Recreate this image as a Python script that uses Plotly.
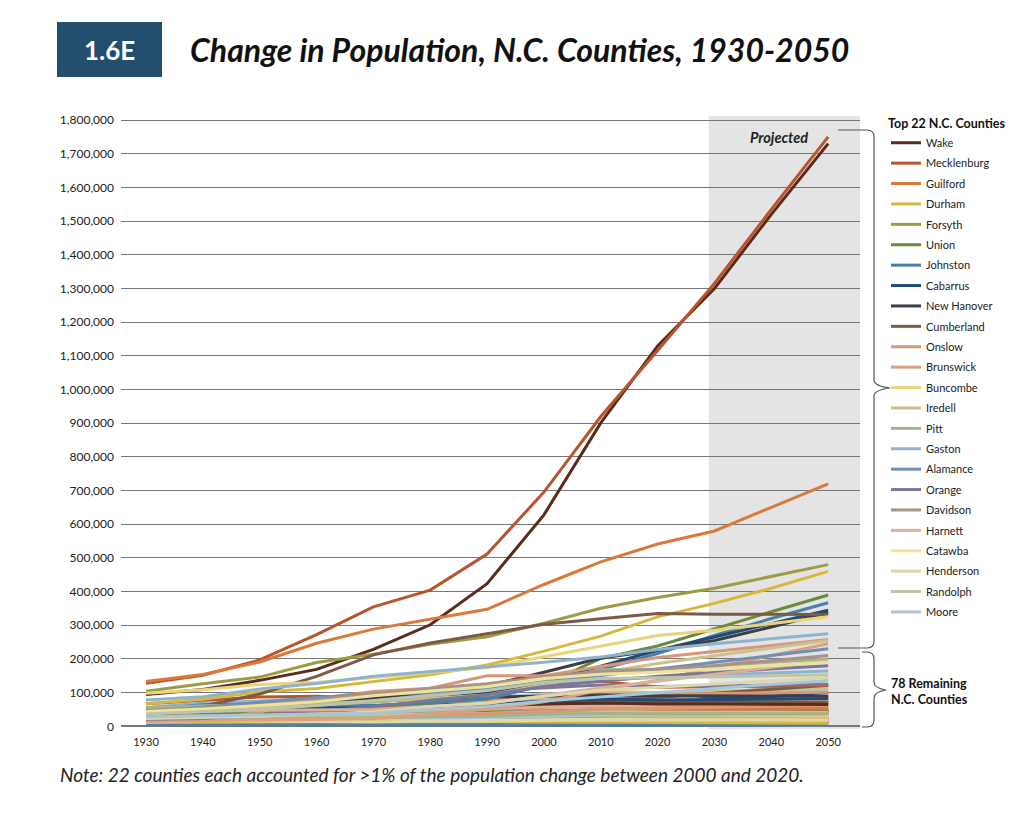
import plotly.graph_objects as go

# decades, census 1930-2020 then projections to 2050
years = [1930, 1940, 1950, 1960, 1970, 1980, 1990, 2000, 2010, 2020, 2030, 2040, 2050]

# top counties (people)
wake = [94757, 109544, 136450, 169082, 228453, 301327, 423380, 627846, 900993, 1129410, 1300000, 1520000, 1730000]
mecklenburg = [127971, 151826, 197052, 272111, 354656, 404270, 511433, 695454, 919628, 1115482, 1315000, 1535000, 1750000]
guilford = [133010, 153916, 191057, 246520, 288590, 317154, 347420, 421048, 488406, 541299, 580000, 650000, 720000]
durham = [67196, 80244, 101639, 111995, 132681, 152785, 181835, 223314, 267587, 324833, 365000, 410000, 460000]
forsyth = [103934, 126475, 146135, 189428, 214348, 243683, 265878, 306067, 350670, 382590, 410000, 445000, 480000]
union = [40979, 39097, 42034, 44670, 54714, 70380, 84211, 123677, 201292, 238267, 290000, 340000, 390000]
johnston = [49162, 63798, 65906, 62936, 61737, 70599, 81306, 121965, 168878, 215999, 270000, 320000, 367000]
cabarrus = [44331, 59393, 63783, 68137, 74629, 85895, 98935, 131063, 178011, 225804, 265000, 305000, 345000]
new_hanover = [43010, 47935, 63272, 71742, 82996, 103471, 120284, 160307, 202667, 225702, 255000, 295000, 338000]
cumberland = [45219, 59320, 96006, 148418, 212042, 247160, 274566, 302963, 319431, 334728, 333000, 332000, 332000]
onslow = [15289, 17939, 42047, 82706, 103126, 112784, 149838, 150355, 177772, 204576, 222000, 240000, 258000]
brunswick = [15818, 17125, 19238, 20278, 24223, 35777, 50985, 73143, 107431, 136693, 175000, 210000, 245000]
buncombe = [97937, 108755, 124403, 130074, 145056, 160934, 174821, 206330, 238318, 269452, 285000, 305000, 325000]
iredell = [46693, 50424, 56303, 62526, 72197, 82538, 92931, 122660, 159437, 186693, 210000, 232000, 255000]
pitt = [54466, 61244, 63789, 69942, 73900, 90146, 107924, 133798, 168148, 170243, 180000, 190000, 200000]
gaston = [78093, 87531, 110836, 127074, 148415, 162568, 175093, 190365, 206086, 227943, 245000, 260000, 275000]
alamance = [42140, 57427, 71220, 85674, 96362, 99319, 108213, 130800, 151131, 171415, 190000, 210000, 230000]
orange = [21171, 23072, 34435, 42970, 57707, 77055, 93851, 118227, 133801, 148696, 160000, 170000, 180000]
davidson = [47865, 53402, 62244, 79493, 95627, 113162, 126677, 147246, 162878, 168930, 180000, 195000, 210000]
harnett = [37911, 44239, 47605, 48236, 49667, 59570, 67822, 91025, 114678, 133568, 155000, 175000, 195000]
catawba = [43991, 51479, 61794, 73191, 90873, 105208, 118412, 141685, 154358, 160610, 170000, 180000, 190000]
henderson = [23404, 26049, 30921, 36163, 42804, 58580, 69285, 89173, 106740, 116281, 125000, 135000, 145000]
randolph = [36259, 44554, 50804, 61497, 76358, 91728, 106546, 130454, 141752, 144171, 147000, 150000, 153000]
moore = [28215, 30969, 33129, 36733, 39048, 50505, 59013, 74769, 88247, 99727, 112000, 125000, 135000]

top_names = ["Wake", "Mecklenburg", "Guilford", "Durham", "Forsyth", "Union", "Johnston",
             "Cabarrus", "New Hanover", "Cumberland", "Onslow", "Brunswick", "Buncombe",
             "Iredell", "Pitt", "Gaston", "Alamance", "Orange", "Davidson", "Harnett",
             "Catawba", "Henderson", "Randolph", "Moore"]
top_values = [wake, mecklenburg, guilford, durham, forsyth, union, johnston, cabarrus,
              new_hanover, cumberland, onslow, brunswick, buncombe, iredell, pitt, gaston,
              alamance, orange, davidson, harnett, catawba, henderson, randolph, moore]
top_colors = ["#5b2a18", "#b8552c", "#d9793a", "#d6b93c", "#9c9c45", "#6c8b3a", "#4a7fa8",
              "#1f4b74", "#3d3d48", "#7e5a44", "#d9977a", "#dca07e", "#e9d37c", "#c9c28b",
              "#a5b38b", "#8fb3cd", "#6f90b2", "#7e7699", "#a8928a", "#ddaf98", "#ede39b",
              "#ddd7a9", "#bdc5a9", "#a9c5d8"]

# remaining counties (thousands)
rest_names = ["Alexander", "Alleghany", "Anson", "Ashe", "Avery", "Beaufort", "Bertie", "Bladen",
              "Burke", "Caldwell", "Camden", "Carteret", "Caswell", "Chatham", "Cherokee", "Chowan",
              "Clay", "Cleveland", "Columbus", "Craven", "Currituck", "Dare", "Davie", "Duplin",
              "Edgecombe", "Franklin", "Gates", "Graham", "Granville", "Greene", "Halifax", "Haywood",
              "Hertford", "Hoke", "Hyde", "Jackson", "Jones", "Lee", "Lenoir", "Lincoln",
              "McDowell", "Macon", "Madison", "Martin", "Mitchell", "Montgomery", "Nash", "Northampton",
              "Pamlico", "Pasquotank", "Pender", "Perquimans", "Person", "Polk", "Richmond", "Robeson",
              "Rockingham", "Rowan", "Rutherford", "Sampson", "Scotland", "Stanly", "Stokes", "Surry",
              "Swain", "Transylvania", "Tyrrell", "Vance", "Warren", "Washington", "Watauga", "Wayne",
              "Wilkes", "Wilson", "Yadkin", "Yancey"]
rest_values = [
    [13, 15, 15, 16, 20, 25, 28, 34, 37, 36, 37, 37, 37],
    [8, 8, 8, 7, 8, 9, 10, 11, 11, 11, 11, 11, 11],
    [29, 28, 27, 24, 23, 26, 23, 25, 27, 22, 21, 20, 19],
    [22, 22, 21, 19, 20, 23, 22, 24, 27, 27, 28, 28, 28],
    [11, 13, 13, 12, 12, 14, 15, 17, 18, 18, 18, 18, 18],
    [35, 37, 37, 37, 36, 40, 43, 45, 48, 44, 44, 43, 43],
    [25, 26, 26, 24, 21, 21, 21, 20, 21, 17, 16, 15, 14],
    [26, 27, 29, 28, 26, 31, 29, 33, 35, 30, 29, 28, 27],
    [41, 45, 52, 52, 60, 72, 76, 89, 91, 88, 88, 88, 88],
    [35, 37, 43, 49, 56, 67, 71, 78, 83, 80, 80, 79, 79],
    [5, 6, 5, 6, 6, 6, 6, 7, 10, 11, 12, 13, 14],
    [19, 18, 23, 31, 31, 41, 53, 59, 66, 68, 72, 75, 78],
    [19, 20, 20, 19, 19, 21, 21, 24, 24, 23, 22, 22, 21],
    [24, 24, 25, 26, 30, 33, 39, 49, 64, 76, 95, 115, 135],
    [16, 19, 18, 16, 16, 18, 20, 24, 27, 29, 30, 31, 32],
    [11, 11, 12, 11, 10, 12, 13, 15, 15, 14, 14, 13, 13],
    [5, 6, 6, 5, 5, 7, 7, 9, 11, 11, 12, 12, 13],
    [52, 58, 65, 67, 73, 83, 85, 96, 98, 100, 102, 104, 106],
    [38, 45, 50, 48, 47, 51, 50, 55, 58, 51, 50, 49, 48],
    [34, 31, 48, 58, 62, 71, 81, 91, 103, 100, 104, 108, 112],
    [7, 7, 6, 7, 7, 11, 14, 18, 24, 28, 33, 38, 43],
    [5, 6, 5, 6, 7, 13, 23, 30, 34, 37, 40, 42, 44],
    [14, 14, 15, 16, 19, 25, 28, 35, 41, 43, 46, 49, 52],
    [36, 40, 41, 40, 38, 41, 40, 49, 59, 49, 49, 49, 49],
    [47, 49, 51, 55, 53, 56, 56, 56, 56, 48, 46, 44, 42],
    [29, 30, 31, 29, 27, 31, 37, 47, 61, 69, 80, 90, 100],
    [10, 10, 9, 9, 8, 9, 10, 10, 12, 10, 10, 10, 10],
    [6, 7, 7, 7, 6, 7, 7, 8, 9, 8, 8, 8, 8],
    [28, 29, 31, 33, 33, 34, 38, 48, 60, 61, 64, 67, 70],
    [18, 19, 18, 17, 15, 16, 16, 19, 21, 21, 21, 21, 21],
    [53, 56, 58, 58, 53, 55, 55, 57, 54, 48, 46, 44, 42],
    [28, 34, 37, 39, 41, 46, 47, 54, 59, 62, 64, 65, 66],
    [17, 19, 21, 22, 24, 24, 22, 22, 24, 21, 20, 20, 19],
    [14, 16, 15, 16, 17, 21, 23, 34, 47, 52, 58, 64, 70],
    [8, 7, 6, 6, 6, 6, 5, 6, 6, 5, 5, 5, 4],
    [18, 19, 19, 17, 21, 25, 27, 33, 40, 43, 46, 48, 50],
    [10, 10, 11, 11, 9, 10, 9, 10, 10, 9, 9, 9, 9],
    [18, 21, 24, 26, 30, 37, 41, 49, 58, 63, 68, 72, 76],
    [35, 41, 45, 56, 55, 59, 57, 59, 59, 55, 54, 53, 52],
    [22, 24, 27, 29, 33, 42, 50, 64, 78, 86, 98, 110, 122],
    [20, 23, 25, 26, 30, 35, 36, 42, 45, 44, 45, 45, 45],
    [13, 15, 16, 14, 16, 20, 24, 30, 34, 37, 38, 39, 40],
    [20, 21, 20, 18, 17, 17, 17, 20, 21, 21, 22, 23, 23],
    [23, 26, 27, 27, 24, 26, 25, 26, 25, 22, 21, 20, 19],
    [12, 15, 16, 14, 13, 14, 14, 16, 16, 15, 15, 15, 15],
    [15, 17, 17, 18, 20, 22, 23, 27, 28, 26, 26, 26, 26],
    [52, 59, 60, 62, 59, 67, 76, 87, 96, 95, 97, 99, 101],
    [27, 29, 29, 26, 24, 22, 21, 22, 22, 17, 16, 15, 14],
    [9, 9, 9, 9, 9, 10, 11, 13, 13, 12, 12, 11, 11],
    [19, 20, 24, 25, 27, 28, 31, 35, 40, 40, 41, 42, 43],
    [16, 17, 19, 18, 18, 22, 29, 41, 52, 60, 70, 80, 90],
    [10, 9, 9, 9, 8, 10, 10, 11, 14, 13, 13, 13, 13],
    [23, 25, 25, 26, 26, 29, 30, 36, 39, 39, 40, 40, 40],
    [10, 11, 11, 11, 12, 13, 14, 18, 20, 19, 20, 20, 21],
    [39, 36, 39, 39, 40, 46, 44, 46, 46, 43, 42, 41, 40],
    [67, 76, 87, 89, 84, 101, 105, 123, 134, 116, 118, 120, 121],
    [44, 57, 65, 69, 73, 83, 86, 91, 93, 91, 90, 90, 89],
    [56, 69, 75, 83, 90, 99, 111, 130, 138, 146, 152, 158, 164],
    [40, 45, 46, 45, 47, 53, 57, 63, 67, 64, 64, 64, 64],
    [40, 47, 49, 48, 44, 49, 47, 60, 63, 59, 60, 60, 61],
    [20, 23, 26, 25, 26, 32, 34, 36, 36, 34, 33, 32, 31],
    [34, 37, 37, 40, 42, 48, 51, 58, 60, 62, 64, 66, 68],
    [22, 22, 21, 22, 23, 34, 37, 45, 47, 44, 44, 43, 43],
    [39, 42, 45, 48, 51, 60, 61, 71, 74, 71, 71, 71, 71],
    [11, 13, 10, 8, 7, 10, 11, 13, 14, 14, 14, 14, 14],
    [10, 12, 15, 16, 19, 23, 25, 29, 33, 33, 34, 35, 35],
    [5, 5, 5, 4, 4, 4, 4, 4, 4, 3, 3, 3, 3],
    [27, 30, 32, 32, 33, 37, 38, 43, 45, 42, 42, 41, 41],
    [23, 23, 23, 19, 16, 16, 17, 20, 21, 19, 19, 18, 18],
    [11, 12, 13, 13, 14, 15, 14, 13, 13, 11, 10, 10, 9],
    [15, 18, 19, 17, 23, 32, 37, 42, 51, 54, 57, 60, 62],
    [53, 59, 65, 82, 85, 97, 105, 113, 123, 118, 120, 122, 124],
    [36, 44, 45, 45, 49, 58, 60, 66, 69, 66, 66, 65, 65],
    [44, 51, 55, 57, 57, 63, 67, 74, 81, 78, 80, 81, 82],
    [18, 20, 22, 22, 24, 28, 30, 36, 38, 37, 37, 37, 37],
    [13, 17, 16, 14, 13, 15, 15, 18, 18, 19, 19, 19, 19],
]

y_ticks = list(range(0, 1800001, 100000))

# page has an 8px body margin; figure is sized to fit inside it
W, H = 1008, 798
# plot area edges in page pixels
L, R, T, B = 121, 860, 116, 729


def px(x):
    return (x - L) / (R - L)


def py(y):
    return (B - y) / (B - T)


fig = go.Figure()

# background counties first
for i, (name, vals) in enumerate(zip(rest_names, rest_values)):
    fig.add_trace(go.Scatter(x=years, y=[v * 1000 for v in vals], mode="lines", name=name,
                             line=dict(color=top_colors[(i * 7) % len(top_colors)], width=3),
                             showlegend=False, hoverinfo="name+y"))

for name, vals, col in zip(top_names, top_values, top_colors):
    fig.add_trace(go.Scatter(x=years, y=vals, mode="lines", name=name, legendgroup=name,
                             line=dict(color=col, width=3)))

# projected band
fig.add_vrect(x0=2029, x1=2056, fillcolor="#e4e4e4", line_width=0, layer="below")


def brace(top, tip, bottom, xl, xv, xt):
    # curly brace from the plot edge out to a tip on the right
    r = 7
    return (f"M {px(xl)},{py(top)} L {px(xv - r)},{py(top)} "
            f"Q {px(xv)},{py(top)} {px(xv)},{py(top + r)} "
            f"L {px(xv)},{py(tip - 8)} Q {px(xv)},{py(tip - 2)} {px(xt)},{py(tip)} "
            f"Q {px(xv)},{py(tip + 2)} {px(xv)},{py(tip + 8)} "
            f"L {px(xv)},{py(bottom - r)} Q {px(xv)},{py(bottom)} {px(xv - r)},{py(bottom)} "
            f"L {px(xl)},{py(bottom)}")


fig.add_shape(type="path", xref="paper", yref="paper", path=brace(130, 388, 648, 838, 874, 890),
              line=dict(color="#555555", width=1.2))
fig.add_shape(type="path", xref="paper", yref="paper", path=brace(652, 690, 727, 862, 874, 886),
              line=dict(color="#555555", width=1.2))

# title block
fig.add_shape(type="rect", xref="paper", yref="paper", x0=px(57), x1=px(162), y0=py(77), y1=py(22),
              fillcolor="#234e6d", line_width=0)
fig.add_annotation(x=px(109.5), y=py(50), xref="paper", yref="paper", xanchor="center",
                   yanchor="middle", text="<b>1.6E</b>", showarrow=False,
                   font=dict(family="Lato", size=26, color="white"))
fig.add_annotation(x=px(188), y=py(50), xref="paper", yref="paper", xanchor="left",
                   yanchor="middle",
                   text="<b><i>Change in Population, N.C. Counties, 1930-2050</i></b>",
                   showarrow=False, font=dict(family="Lato", size=32, color="#111111"))
fig.add_annotation(x=px(779), y=py(137), xref="paper", yref="paper", xanchor="center",
                   yanchor="middle", text="<b><i>Projected</i></b>", showarrow=False,
                   font=dict(family="Lato", size=14.5, color="#222222"))
fig.add_annotation(x=px(889), y=py(691), xref="paper", yref="paper", xanchor="left",
                   yanchor="middle", align="left",
                   text="<b>78 Remaining<br>N.C. Counties</b>", showarrow=False,
                   font=dict(family="Lato", size=12.5, color="#111111"))
fig.add_annotation(x=px(58), y=py(775), xref="paper", yref="paper", xanchor="left",
                   yanchor="middle",
                   text="<i>Note: 22 counties each accounted for >1% of the population change between 2000 and 2020.</i>",
                   showarrow=False, font=dict(family="Lato", size=19, color="#222222"))

fig.update_layout(
    width=W, height=H,
    margin=dict(l=L - 8, r=W - (R - 8), t=T - 8, b=H - (B - 8), autoexpand=False),
    plot_bgcolor="white", paper_bgcolor="white",
    font=dict(family="Lato", size=10, color="#222222"),
    legend=dict(x=px(886), y=py(112), xanchor="left", yanchor="top", maxheight=700,
                title=dict(text="<b>Top 22 N.C. Counties</b>", font=dict(size=12.5, color="#111111")),
                font=dict(size=11, color="#222222"), tracegroupgap=1.4, itemwidth=30,
                bgcolor="rgba(0,0,0,0)"),
    hovermode="closest",
)
fig.update_xaxes(range=[1925.6, 2055.6], tickvals=years, showgrid=False, zeroline=False,
                 showline=False, ticks="", ticklabelstandoff=5,
                 tickfont=dict(size=11, color="#222222"))
fig.update_yaxes(range=[-8000, 1812000], tickvals=y_ticks, tickformat=",", showgrid=True,
                 gridcolor="#777777", gridwidth=1.4, zeroline=True, zerolinecolor="#777777",
                 zerolinewidth=1.6, showline=False, ticks="", ticklabelstandoff=6,
                 tickfont=dict(size=12, color="#222222"))

fig.write_html("out.html")
